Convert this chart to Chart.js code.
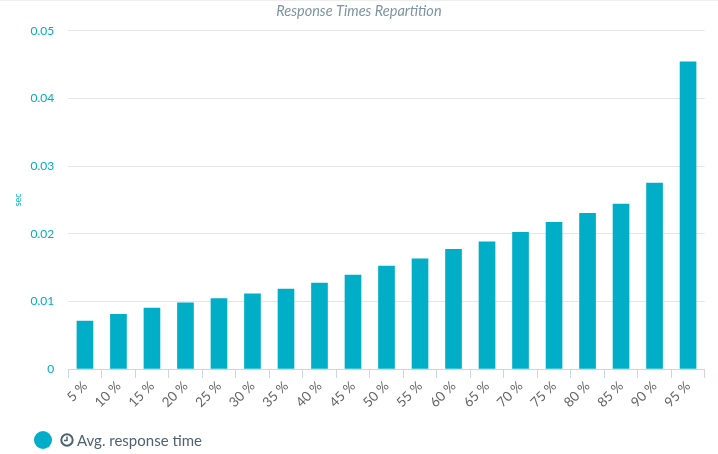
<!DOCTYPE html>
<html>
<head>
<meta charset="utf-8">
<style>
html,body{margin:0;padding:0;background:#fff;}
#wrap{position:relative;width:718px;height:454px;overflow:hidden;box-sizing:border-box;}
#topline{position:absolute;left:0;top:0;width:718px;height:1px;background:#eeeeee;}
canvas{position:absolute;left:0;top:0;}
#legend{position:absolute;left:34px;top:430px;height:20px;display:flex;align-items:center;font:15px Lato,"Noto Sans",sans-serif;color:#4f6270;}
#dot{width:18px;height:18px;border-radius:50%;background:#00aec7;margin-right:8px;}
#legend svg{margin-right:3px;}
</style>
<script src="https://cdn.jsdelivr.net/npm/chart.js@4"></script>
</head>
<body>
<div id="wrap">
<canvas id="c" width="718" height="454"></canvas>
<div id="topline"></div>
<div id="legend"><div id="dot"></div>
<svg width="14" height="14" viewBox="0 0 14 14"><circle cx="7" cy="7" r="5.7" fill="none" stroke="#4f6270" stroke-width="2"/><path d="M7 3.6V7.4H4" fill="none" stroke="#4f6270" stroke-width="1.5"/></svg>
<span id="legendText"></span></div>
</div>
<script>
const categories = ["5 %","10 %","15 %","20 %","25 %","30 %","35 %","40 %","45 %","50 %","55 %","60 %","65 %","70 %","75 %","80 %","85 %","90 %","95 %"];
const avgResponseTime = [0.0071,0.0081,0.0090,0.0098,0.0104,0.0111,0.0118,0.0127,0.0139,0.0152,0.0163,0.0177,0.0188,0.0202,0.0217,0.0230,0.0244,0.0275,0.0454];
const seriesName = "Avg. response time";
const chartTitle = "Response Times Repartition";
const yAxisTitle = "sec";
const yTicks = [0,0.01,0.02,0.03,0.04,0.05];

document.getElementById('legendText').textContent = seriesName;
const family = 'Lato,"Noto Sans",sans-serif';
Chart.defaults.font.family = family;

new Chart(document.getElementById('c'), {
  type: 'bar',
  data: { labels: categories, datasets: [{ label: seriesName, data: avgResponseTime, backgroundColor: '#00aec7', borderWidth: 0, barThickness: 16 }] },
  options: {
    responsive: false,
    animation: false,
    layout: { padding: { left: 13, right: 13.2, top: 0, bottom: 0 } },
    plugins: {
      legend: { display: false },
      tooltip: { enabled: false },
      title: { display: true, text: chartTitle, color: '#7d95a1', padding: { top: 3, bottom: 10.4 }, font: { size: 14.5, style: 'italic', weight: 'normal', family } }
    },
    scales: {
      x: {
        afterFit(s) { s.height = 85; },
        border: { color: '#ccd6eb', width: 1 },
        grid: { display: true, drawOnChartArea: false, drawTicks: true, tickLength: 9, color: '#ccd6eb', offset: true },
        ticks: { color: '#666666', font: { size: 13.5 }, minRotation: 45, maxRotation: 45, autoSkip: false, padding: 0 }
      },
      y: {
        min: 0, max: 0.05,
        afterFit(s) { s.width = 55.2; },
        afterBuildTicks(s) { s.ticks = yTicks.map(v => ({ value: v })); },
        border: { display: false },
        grid: { color: '#e6e6e6', lineWidth: 1, drawTicks: false },
        title: { display: true, text: yAxisTitle, color: '#00aec7', padding: 0, font: { size: 9 } },
        ticks: { color: '#00aec7', font: { size: 12 }, padding: 14, callback: v => String(v) }
      }
    }
  }
});
</script>
</body>
</html>
